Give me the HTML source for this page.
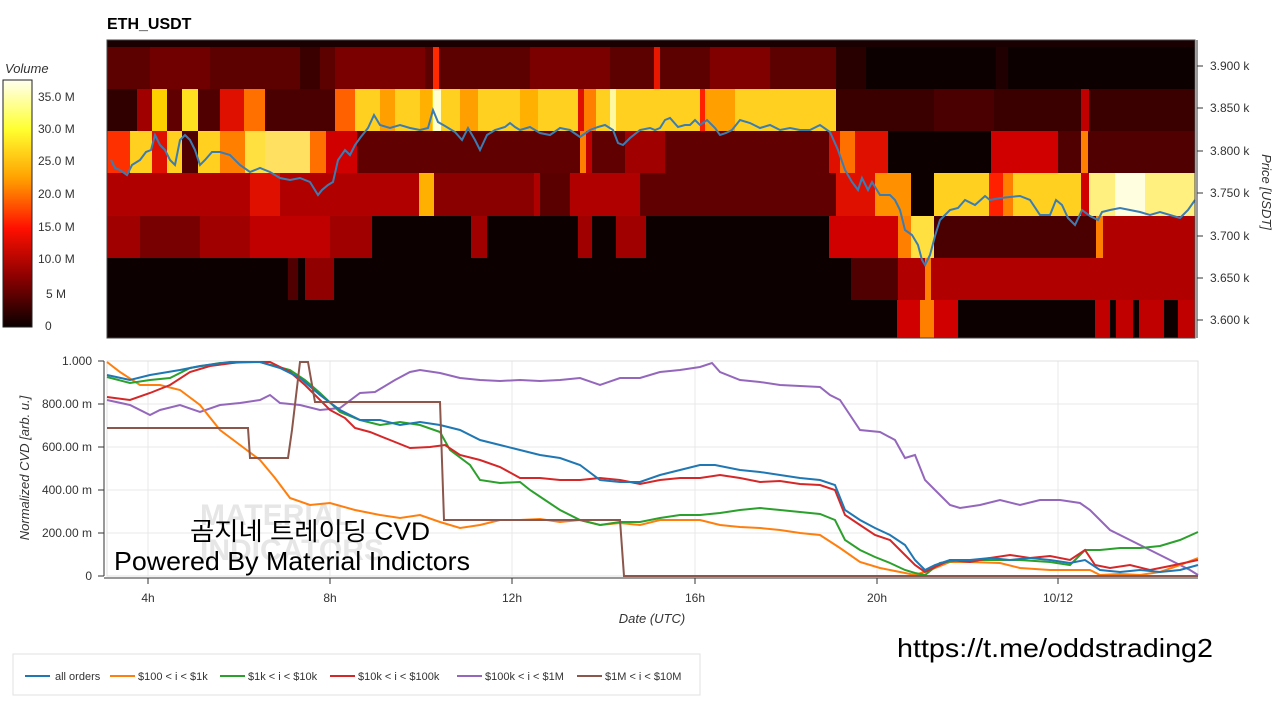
<!DOCTYPE html>
<html><head><meta charset="utf-8"><style>
body{margin:0;background:#fff;width:1280px;height:697px;overflow:hidden;font-family:"Liberation Sans",sans-serif}
</style></head><body>
<svg width="1280" height="697" viewBox="0 0 1280 697" xmlns="http://www.w3.org/2000/svg" font-family="Liberation Sans, sans-serif">
<defs>
<linearGradient id="cb" x1="0" y1="0" x2="0" y2="1">
<stop offset="0" stop-color="#fffff0"/><stop offset="0.2" stop-color="#ffff30"/><stop offset="0.4" stop-color="#ffa000"/><stop offset="0.6" stop-color="#ff1000"/><stop offset="0.8" stop-color="#8a0000"/><stop offset="1" stop-color="#0a0000"/>
</linearGradient>
</defs>
<text x="107" y="29" font-size="16" font-weight="bold">ETH_USDT</text>
<g shape-rendering="crispEdges">
<rect x="107" y="40" width="1088" height="298" fill="#0d0000"/>
<rect x="107" y="40" width="1088" height="7" fill="#1a0000"/>
<rect x="107" y="47" width="729" height="42" fill="#5c0000"/>
<rect x="150" y="47" width="60" height="42" fill="#700000"/>
<rect x="300" y="47" width="20" height="42" fill="#3a0000"/>
<rect x="335" y="47" width="90" height="42" fill="#7a0000"/>
<rect x="433" y="47" width="6" height="42" fill="#ff2a00"/>
<rect x="530" y="47" width="80" height="42" fill="#7a0000"/>
<rect x="654" y="47" width="6" height="42" fill="#e81800"/>
<rect x="710" y="47" width="60" height="42" fill="#800000"/>
<rect x="836" y="47" width="30" height="42" fill="#280000"/>
<rect x="996" y="47" width="12" height="42" fill="#200000"/>
<rect x="107" y="89" width="30" height="42" fill="#300000"/>
<rect x="137" y="89" width="15" height="42" fill="#a00000"/>
<rect x="152" y="89" width="15" height="42" fill="#ffd000"/>
<rect x="167" y="89" width="15" height="42" fill="#600000"/>
<rect x="182" y="89" width="16" height="42" fill="#ffe020"/>
<rect x="198" y="89" width="22" height="42" fill="#500000"/>
<rect x="220" y="89" width="24" height="42" fill="#e01000"/>
<rect x="244" y="89" width="21" height="42" fill="#ff7000"/>
<rect x="265" y="89" width="70" height="42" fill="#4a0000"/>
<rect x="335" y="89" width="501" height="42" fill="#ffd020"/>
<rect x="335" y="89" width="20" height="42" fill="#ff6000"/>
<rect x="380" y="89" width="15" height="42" fill="#ffa000"/>
<rect x="420" y="89" width="12" height="42" fill="#ffb000"/>
<rect x="433" y="89" width="8" height="42" fill="#ffffd0"/>
<rect x="460" y="89" width="18" height="42" fill="#ffa000"/>
<rect x="520" y="89" width="18" height="42" fill="#ffb000"/>
<rect x="578" y="89" width="6" height="42" fill="#e01000"/>
<rect x="584" y="89" width="12" height="42" fill="#ff8000"/>
<rect x="610" y="89" width="6" height="42" fill="#fff8a0"/>
<rect x="700" y="89" width="5" height="42" fill="#ff2000"/>
<rect x="705" y="89" width="30" height="42" fill="#ffa000"/>
<rect x="836" y="89" width="245" height="42" fill="#3a0000"/>
<rect x="934" y="89" width="60" height="42" fill="#4a0000"/>
<rect x="1081" y="89" width="8" height="42" fill="#c00000"/>
<rect x="1089" y="89" width="106" height="42" fill="#3a0000"/>
<rect x="107" y="131" width="250" height="42" fill="#ffd020"/>
<rect x="107" y="131" width="23" height="42" fill="#ff3000"/>
<rect x="152" y="131" width="15" height="42" fill="#e01000"/>
<rect x="182" y="131" width="16" height="42" fill="#500000"/>
<rect x="220" y="131" width="25" height="42" fill="#ff8000"/>
<rect x="245" y="131" width="20" height="42" fill="#ffe040"/>
<rect x="265" y="131" width="45" height="42" fill="#ffe060"/>
<rect x="310" y="131" width="16" height="42" fill="#ff7000"/>
<rect x="326" y="131" width="31" height="42" fill="#d00000"/>
<rect x="357" y="131" width="472" height="42" fill="#600000"/>
<rect x="580" y="131" width="12" height="42" fill="#c00000"/>
<rect x="580" y="131" width="6" height="42" fill="#ff8000"/>
<rect x="625" y="131" width="40" height="42" fill="#a00000"/>
<rect x="829" y="131" width="59" height="42" fill="#e01000"/>
<rect x="840" y="131" width="15" height="42" fill="#ff7000"/>
<rect x="888" y="131" width="103" height="42" fill="#0d0000"/>
<rect x="991" y="131" width="67" height="42" fill="#d00000"/>
<rect x="1058" y="131" width="137" height="42" fill="#500000"/>
<rect x="1081" y="131" width="7" height="42" fill="#ff8000"/>
<rect x="107" y="173" width="729" height="43" fill="#b00000"/>
<rect x="250" y="173" width="30" height="43" fill="#e01000"/>
<rect x="419" y="173" width="15" height="43" fill="#ffb000"/>
<rect x="434" y="173" width="100" height="43" fill="#8a0000"/>
<rect x="540" y="173" width="30" height="43" fill="#5a0000"/>
<rect x="640" y="173" width="196" height="43" fill="#600000"/>
<rect x="836" y="173" width="39" height="43" fill="#e01000"/>
<rect x="875" y="173" width="36" height="43" fill="#ff9000"/>
<rect x="911" y="173" width="23" height="43" fill="#0d0000"/>
<rect x="934" y="173" width="147" height="43" fill="#ffd020"/>
<rect x="989" y="173" width="14" height="43" fill="#ff2000"/>
<rect x="1003" y="173" width="10" height="43" fill="#ff8000"/>
<rect x="1081" y="173" width="8" height="43" fill="#d00000"/>
<rect x="1089" y="173" width="106" height="43" fill="#fff080"/>
<rect x="1115" y="173" width="30" height="43" fill="#ffffe0"/>
<rect x="107" y="216" width="265" height="42" fill="#a00000"/>
<rect x="140" y="216" width="60" height="42" fill="#780000"/>
<rect x="250" y="216" width="80" height="42" fill="#c00000"/>
<rect x="471" y="216" width="16" height="42" fill="#a00000"/>
<rect x="578" y="216" width="14" height="42" fill="#a00000"/>
<rect x="616" y="216" width="30" height="42" fill="#a00000"/>
<rect x="829" y="216" width="69" height="42" fill="#d00000"/>
<rect x="898" y="216" width="13" height="42" fill="#ff8000"/>
<rect x="911" y="216" width="23" height="42" fill="#ffe040"/>
<rect x="934" y="216" width="162" height="42" fill="#4a0000"/>
<rect x="1096" y="216" width="7" height="42" fill="#ff8000"/>
<rect x="1103" y="216" width="92" height="42" fill="#b00000"/>
<rect x="288" y="258" width="10" height="42" fill="#500000"/>
<rect x="305" y="258" width="29" height="42" fill="#900000"/>
<rect x="851" y="258" width="47" height="42" fill="#500000"/>
<rect x="898" y="258" width="297" height="42" fill="#b00000"/>
<rect x="925" y="258" width="6" height="42" fill="#ff8000"/>
<rect x="897" y="300" width="61" height="38" fill="#d00000"/>
<rect x="920" y="300" width="14" height="38" fill="#ff8000"/>
<rect x="1095" y="300" width="100" height="38" fill="#c00000"/>
<rect x="1110" y="300" width="6" height="38" fill="#0d0000"/>
<rect x="1133" y="300" width="6" height="38" fill="#0d0000"/>
<rect x="1164" y="300" width="14" height="38" fill="#0d0000"/>
</g>
<polyline fill="none" stroke="#3a7db5" stroke-width="2" points="111,160 115,168 120,170 127,175 132,165 140,160 146,152 151,150 155,135 160,145 165,150 170,160 175,165 180,140 185,135 190,140 195,150 200,165 205,160 212,152 220,152 230,155 240,165 250,172 260,168 270,172 280,178 290,180 300,178 310,182 318,195 322,190 328,185 333,182 338,160 345,150 350,155 355,145 360,138 368,128 374,115 380,125 390,128 400,125 410,128 420,130 428,128 433,110 438,122 445,126 455,132 462,140 468,128 475,140 480,150 487,135 495,130 505,127 510,123 515,127 520,130 530,127 540,133 550,135 560,128 570,130 580,137 590,130 598,127 605,125 613,130 618,143 623,145 630,138 640,130 650,128 655,130 660,128 665,120 670,118 678,127 685,125 690,125 695,120 700,125 707,120 715,128 720,135 726,133 732,130 740,120 750,123 760,128 770,125 780,130 790,128 800,130 810,130 820,125 830,132 838,150 845,170 852,182 858,190 862,178 868,190 872,182 880,195 890,195 895,200 900,210 905,230 912,235 918,245 922,260 925,265 930,255 935,236 940,220 945,215 950,210 958,208 965,200 975,205 985,196 990,200 1000,198 1010,197 1020,196 1030,200 1040,215 1050,215 1056,200 1062,205 1068,218 1075,225 1082,210 1090,216 1098,220 1102,212 1110,210 1120,208 1130,210 1140,212 1150,215 1160,212 1170,215 1180,218 1188,210 1195,200"/>
<rect x="107" y="40" width="1088" height="298" fill="none" stroke="#444" stroke-width="1"/>
<g font-size="12" fill="#333">
<line x1="1197" y1="40" x2="1197" y2="338" stroke="#333"/>
<g stroke="#333">
<line x1="1197" y1="66" x2="1203" y2="66"/><line x1="1197" y1="108" x2="1203" y2="108"/><line x1="1197" y1="151" x2="1203" y2="151"/><line x1="1197" y1="193" x2="1203" y2="193"/><line x1="1197" y1="236" x2="1203" y2="236"/><line x1="1197" y1="278" x2="1203" y2="278"/><line x1="1197" y1="320" x2="1203" y2="320"/>
</g>
<text x="1210" y="70">3.900 k</text><text x="1210" y="112">3.850 k</text><text x="1210" y="155">3.800 k</text><text x="1210" y="197">3.750 k</text><text x="1210" y="240">3.700 k</text><text x="1210" y="282">3.650 k</text><text x="1210" y="324">3.600 k</text>
<text transform="translate(1262,192) rotate(90)" text-anchor="middle" font-style="italic" font-size="13">Price [USDT]</text>
</g>
<text x="5" y="73" font-size="13" font-style="italic" fill="#333">Volume</text>
<rect x="3" y="80" width="29" height="247" fill="url(#cb)" stroke="#222"/>
<g font-size="12" fill="#333">
<text x="38" y="101">35.0 M</text><text x="38" y="133">30.0 M</text><text x="38" y="165">25.0 M</text><text x="38" y="198">20.0 M</text><text x="38" y="231">15.0 M</text><text x="38" y="263">10.0 M</text><text x="46" y="298">5 M</text><text x="45" y="330">0</text>
</g>
<g stroke="#e8e8e8" stroke-width="1">
<line x1="107" y1="404" x2="1198" y2="404"/><line x1="107" y1="447" x2="1198" y2="447"/><line x1="107" y1="490" x2="1198" y2="490"/><line x1="107" y1="533" x2="1198" y2="533"/>
<line x1="148" y1="361" x2="148" y2="576"/><line x1="330" y1="361" x2="330" y2="576"/><line x1="512" y1="361" x2="512" y2="576"/><line x1="695" y1="361" x2="695" y2="576"/><line x1="877" y1="361" x2="877" y2="576"/><line x1="1058" y1="361" x2="1058" y2="576"/>
</g>
<rect x="107" y="361" width="1091" height="215" fill="none" stroke="#e0e0e0"/>
<text x="200" y="525" font-size="30" font-weight="bold" fill="#e6e6e6">MATERIAL</text>
<text x="200" y="560" font-size="30" font-weight="bold" fill="#e6e6e6">INDICATORS</text>
<g fill="none" stroke-width="2">
<polyline stroke="#9467bd" points="107,400 130,405 150,415 160,410 180,405 200,412 220,405 240,403 260,400 270,395 280,403 300,405 320,410 340,408 360,393 375,392 395,380 410,372 420,370 440,373 460,378 480,380 500,381 520,380 540,381 560,380 580,378 600,385 620,378 640,378 660,372 680,370 700,367 712,363 720,372 740,380 760,382 780,385 800,386 820,387 830,395 840,400 850,415 860,430 880,432 895,440 905,458 915,455 925,480 935,490 950,505 960,508 980,505 1000,500 1020,505 1040,500 1060,500 1080,503 1090,510 1100,520 1110,530 1130,540 1150,550 1170,560 1190,570 1198,575"/>
<polyline stroke="#ff7f0e" points="107,362 120,372 140,385 160,385 180,390 200,405 220,430 240,445 260,460 275,478 290,498 310,505 330,503 355,510 380,515 400,518 420,515 440,522 460,528 480,525 500,520 520,520 540,519 560,522 580,520 600,525 620,523 640,525 660,520 680,520 700,520 720,525 740,527 760,528 780,530 800,533 820,535 840,548 860,562 880,568 900,572 915,575 930,570 950,562 970,562 1000,563 1020,568 1050,570 1070,570 1090,570 1100,575 1120,574 1140,575 1160,572 1180,565 1198,558"/>
<polyline stroke="#2ca02c" points="107,377 130,383 150,380 170,378 190,368 220,363 260,362 290,370 305,380 320,393 340,412 360,420 380,425 400,422 420,425 440,432 450,450 470,465 480,480 500,483 520,482 530,490 545,500 560,510 580,520 600,525 620,522 640,522 660,518 680,515 700,515 720,513 740,510 760,508 780,510 800,512 820,514 835,520 845,540 860,550 875,557 890,563 905,570 915,573 925,575 940,563 960,560 990,560 1020,560 1050,562 1070,565 1085,550 1100,550 1120,548 1140,548 1160,546 1180,540 1198,532"/>
<polyline stroke="#d62728" points="107,397 130,400 150,393 170,385 190,372 210,366 240,362 270,362 290,372 305,385 315,395 330,410 345,418 355,428 370,432 390,440 410,448 430,447 445,445 460,455 480,460 500,467 520,478 540,478 560,480 580,480 600,478 620,480 640,484 660,480 680,478 700,478 720,475 740,478 760,482 780,481 800,484 820,485 835,490 845,515 860,525 875,535 890,540 905,555 915,565 925,572 935,567 950,560 970,562 990,558 1010,555 1030,558 1050,556 1070,560 1085,550 1095,565 1110,568 1130,565 1150,570 1170,566 1198,560"/>
<polyline stroke="#1f77b4" points="107,375 130,380 150,375 180,370 200,366 230,362 260,362 280,368 300,378 320,395 340,410 360,420 380,420 400,425 420,422 440,425 460,430 480,440 500,445 520,450 540,455 560,458 580,465 600,480 620,482 640,482 660,475 680,470 700,465 715,465 740,470 760,472 780,475 800,478 820,480 835,485 845,510 860,520 875,528 890,535 905,545 915,560 925,570 935,565 950,560 970,560 990,558 1010,560 1030,558 1050,560 1070,563 1085,560 1100,570 1120,572 1140,570 1160,572 1180,570 1198,565"/>
<polyline stroke="#8c564b" points="107,428 248,428 250,458 288,458 292,430 300,362 308,362 315,402 440,402 444,520 620,520 624,576 1198,576"/>
</g>
<g font-size="12" fill="#333">
<line x1="104" y1="361" x2="104" y2="576" stroke="#333"/>
<line x1="104" y1="578" x2="1198" y2="578" stroke="#333"/>
<g stroke="#333">
<line x1="98" y1="361" x2="104" y2="361"/><line x1="98" y1="404" x2="104" y2="404"/><line x1="98" y1="447" x2="104" y2="447"/><line x1="98" y1="490" x2="104" y2="490"/><line x1="98" y1="533" x2="104" y2="533"/><line x1="98" y1="576" x2="104" y2="576"/>
<line x1="148" y1="578" x2="148" y2="584"/><line x1="330" y1="578" x2="330" y2="584"/><line x1="512" y1="578" x2="512" y2="584"/><line x1="695" y1="578" x2="695" y2="584"/><line x1="877" y1="578" x2="877" y2="584"/><line x1="1058" y1="578" x2="1058" y2="584"/>
</g>
<g text-anchor="end"><text x="92" y="365">1.000</text><text x="92" y="408">800.00 m</text><text x="92" y="451">600.00 m</text><text x="92" y="494">400.00 m</text><text x="92" y="537">200.00 m</text><text x="92" y="580">0</text></g>
<g text-anchor="middle"><text x="148" y="602">4h</text><text x="330" y="602">8h</text><text x="512" y="602">12h</text><text x="695" y="602">16h</text><text x="877" y="602">20h</text><text x="1058" y="602">10/12</text></g>
<text x="652" y="623" text-anchor="middle" font-style="italic" font-size="13">Date (UTC)</text>
<text transform="translate(29,468) rotate(-90)" text-anchor="middle" font-style="italic" font-size="13">Normalized CVD [arb. u.]</text>
</g>
<text x="190" y="540" font-size="25" textLength="240" lengthAdjust="spacingAndGlyphs" font-family="Liberation Sans, Noto Sans CJK KR, NanumGothic, sans-serif" fill="#000">곰지네 트레이딩 CVD</text>
<text x="114" y="570" font-size="26" textLength="356" lengthAdjust="spacingAndGlyphs" fill="#000">Powered By Material Indictors</text>
<text x="897" y="657" font-size="26" textLength="316" lengthAdjust="spacingAndGlyphs" fill="#000">https://t.me/oddstrading2</text>
<rect x="13" y="654" width="687" height="41" fill="#fff" stroke="#e0e0e0"/>
<g font-size="11" fill="#333" stroke-width="2">
<line x1="25" y1="676" x2="50" y2="676" stroke="#1f77b4"/><text x="55" y="680">all orders</text>
<line x1="110" y1="676" x2="135" y2="676" stroke="#ff7f0e"/><text x="138" y="680">$100 &lt; i &lt; $1k</text>
<line x1="220" y1="676" x2="245" y2="676" stroke="#2ca02c"/><text x="248" y="680">$1k &lt; i &lt; $10k</text>
<line x1="330" y1="676" x2="355" y2="676" stroke="#d62728"/><text x="358" y="680">$10k &lt; i &lt; $100k</text>
<line x1="457" y1="676" x2="482" y2="676" stroke="#9467bd"/><text x="485" y="680">$100k &lt; i &lt; $1M</text>
<line x1="577" y1="676" x2="602" y2="676" stroke="#8c564b"/><text x="605" y="680">$1M &lt; i &lt; $10M</text>
</g>
</svg>
</body></html>
